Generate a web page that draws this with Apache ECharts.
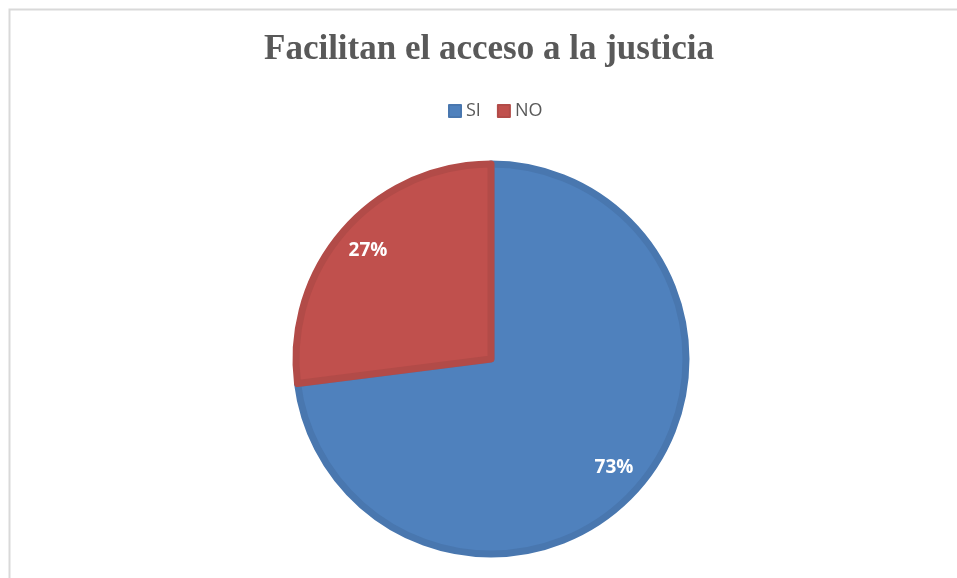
<!DOCTYPE html>
<html><head><meta charset="utf-8">
<script src="https://cdn.jsdelivr.net/npm/echarts@6/dist/echarts.min.js"></script>
<style>html,body{margin:0;padding:0;background:#fff}#c{width:957px;height:578px}</style>
</head><body><div id="c"></div>
<script>
var categories = ['SI', 'NO'];
var values = [73, 27];
var colors = ['#4f81bd', '#c0504d'];
var edgeColors = ['#4977af', '#b24b48'];

var chart = echarts.init(document.getElementById('c'));
var data = categories.map(function (c, i) {
  return { name: c, value: values[i], itemStyle: { color: colors[i], borderColor: edgeColors[i] } };
});
var labelData = categories.map(function (c, i) { return { name: c, value: values[i] }; });
chart.setOption({
  animation: false,
  graphic: [{ type: 'rect', shape: { x: 9.5, y: 9.5, width: 2000, height: 2000 }, style: { fill: 'none', stroke: '#d9d9d9', lineWidth: 2 }, z: 0 }],
  title: {
    text: 'Facilitan el acceso a la justicia', left: 259, top: 27,
    textStyle: { fontFamily: 'Liberation Serif', fontWeight: 'bold', fontSize: 35, color: '#595959' }
  },
  legend: {
    data: categories, top: 97, left: 443, itemWidth: 12, itemHeight: 12, itemGap: 16,
    icon: 'rect',
    textStyle: { fontFamily: 'Open Sans', fontSize: 18, color: '#595959', padding: [0, 0, 0, 0] }
  },
  series: [{
    type: 'pie', center: [491, 359], radius: 195, startAngle: 90, clockwise: true,
    label: { show: false }, labelLine: { show: false }, silent: true,
    itemStyle: { borderWidth: 7 },
    data: data
  }, {
    type: 'pie', center: [491, 359], radius: [124, 198], startAngle: 90, clockwise: true,
    silent: true, legendHoverLink: false,
    itemStyle: { color: 'rgba(0,0,0,0)' },
    label: { show: true, position: 'inside', formatter: '{d}%', color: '#fff', fontWeight: 'bold', fontSize: 19, fontFamily: 'Open Sans' },
    labelLine: { show: false },
    data: labelData
  }]
});
</script></body></html>
